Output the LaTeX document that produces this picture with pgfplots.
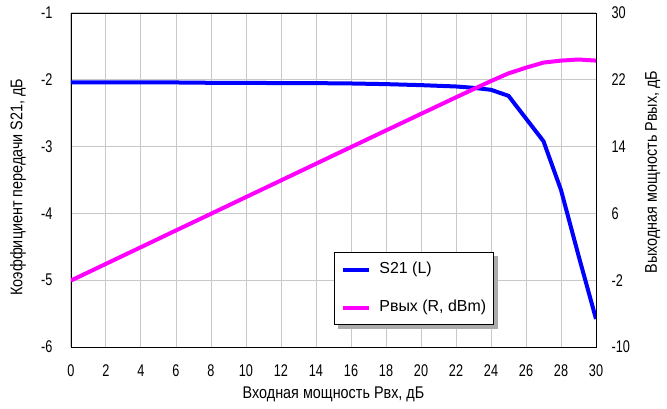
\documentclass[border=0pt]{standalone}
\usepackage{fontspec}
\setmainfont{Liberation Sans}
\newfontfamily\nfont[FakeStretch=0.75]{Liberation Sans}
\newfontfamily\lfont[FakeStretch=0.85]{Liberation Sans}
\usepackage{pgfplots}
\pgfplotsset{compat=1.18}
\definecolor{gridgray}{RGB}{200,200,200}
\definecolor{sblue}{RGB}{0,0,255}
\definecolor{pmag}{RGB}{255,0,255}
\begin{document}
\begin{tikzpicture}
\pgfplotsset{
  base/.style={scale only axis, width=525bp, height=334bp, xmin=0, xmax=30,
   major tick length=0pt, /pgf/number format/assume math mode=true,
   tick label style={font=\nfont\fontsize{17}{20}\selectfont},
   label style={font=\lfont\fontsize{17}{20}\selectfont},
  }
}
\begin{axis}[base, name=ax, ymin=-6, ymax=-1, ytick={-6,-5,-4,-3,-2,-1}, xtick={0,2,...,30},
  grid=major, major grid style={gridgray, line width=1bp}, axis line style={line width=0.8bp},
  yticklabel style={xshift=-15bp}, xticklabel style={yshift=-14bp},
  xlabel={Входная мощность Рвх, дБ}, ylabel={Коэффициент передачи S21, дБ},
  xlabel style={at={(axis description cs:0.5,-0.1198)}, anchor=north, inner sep=0pt},
  ylabel style={at={(axis description cs:-0.1162,0.479)}, anchor=north, inner sep=0pt, rotate=0},
]
\addplot[sblue, line width=4bp] coordinates {
(0,-2.04) (2,-2.04) (4,-2.04) (6,-2.04) (8,-2.045) (10,-2.045) (12,-2.05) (14,-2.05)
(16,-2.055) (18,-2.065) (20,-2.08) (21,-2.09) (22,-2.10) (23,-2.12) (24,-2.15) (25,-2.24)
(26,-2.58) (27,-2.92) (28,-3.65) (29,-4.63) (30,-5.58)};
\end{axis}
\begin{axis}[base, at={(ax.south west)}, anchor=south west, ymin=-10, ymax=30, ytick={-10,-2,6,14,22,30},
  axis y line*=right, axis x line=none, axis line style={line width=0.8bp},
  yticklabel style={xshift=12bp},
  ylabel={Выходная мощность Рвых, дБ},
  ylabel style={at={(axis description cs:1.0933,0.524)}, anchor=north, inner sep=0pt, rotate=0},
  legend style={name=leg, at={(axis description cs:0.501,0.284)}, anchor=north west, draw=black, line width=0.8bp, fill=white,
    font=\fontsize{16}{19}\selectfont, inner xsep=7bp, inner ysep=9bp, row sep=22bp, column sep=8bp,
    nodes={inner sep=0pt, text height=12bp, text depth=4bp, anchor=west}},
  legend cell align=left,
  legend image code/.code={\draw[#1, line width=4bp] (0bp,0bp) -- (26bp,0bp);},
]
\addlegendimage{sblue}
\addlegendentry{S21 (L)}
\addplot[pmag, line width=4bp] coordinates {
(0,-2.04) (2,-0.04) (4,1.96) (6,3.96) (8,5.955) (10,7.955) (12,9.95) (14,11.95)
(16,13.945) (18,15.935) (20,17.92) (21,18.91) (22,19.90) (23,20.88) (24,21.85) (25,22.77)
(26,23.45) (27,24.06) (28,24.3) (29,24.43) (30,24.3)};
\addlegendentry{Рвых (R, dBm)}
\end{axis}
\fill[gray!65] ([xshift=4bp,yshift=-4bp]leg.south west) rectangle ([xshift=4bp,yshift=-0.4bp]leg.south east);
\fill[gray!65] ([xshift=0.4bp,yshift=-4bp]leg.north east) rectangle ([xshift=4bp,yshift=-4bp]leg.south east);
\pgfresetboundingbox
\path[use as bounding box] ([xshift=-71bp,yshift=-62bp]ax.south west) rectangle ++(667bp,409bp);
\end{tikzpicture}
\end{document}
